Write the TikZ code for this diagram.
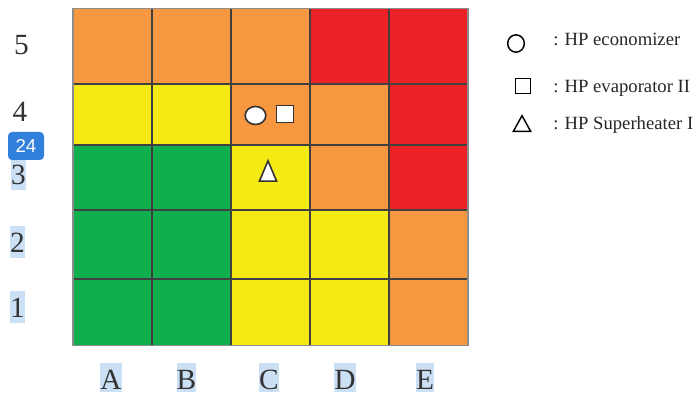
\documentclass[tikz,border=0pt]{standalone}
\usepackage{fontspec}
\setmainfont{Liberation Serif}
\newfontfamily\badgefont{Liberation Sans}
\usetikzlibrary{shapes.geometric}
\definecolor{riskgreen}{HTML}{0FAF4D}
\definecolor{riskyellow}{HTML}{F5EA14}
\definecolor{riskorange}{HTML}{F7973F}
\definecolor{riskred}{HTML}{EC2227}
\definecolor{selblue}{HTML}{CCE0F5}
\definecolor{badgeblue}{HTML}{3080DC}

\begin{document}
\begin{tikzpicture}[x=0.75pt, y=-0.75pt,
        cell/.style={draw=black!75, line width=0.8pt},
        axislbl/.style={font=\fontsize{22}{22}\selectfont, inner xsep=0pt, inner ysep=0pt,
                        text height=20pt, text depth=4pt, anchor=base, text=black!80},
        marked/.style={fill=selblue},
        badge/.style={fill=badgeblue, text=white, rounded corners=3pt, inner sep=0pt,
                      minimum width=27pt, minimum height=21pt, font=\badgefont\fontsize{14}{14}\selectfont},
        sym/.style={draw=black!80, fill=white, line width=1.2pt, inner sep=0pt},
        legsym/.style={draw=black, line width=1.1pt, inner sep=0pt},
        legtxt/.style={font=\fontsize{14}{14}\selectfont, anchor=base west, inner sep=0pt, text=black!85}
      ]
        \useasboundingbox (0,0) rectangle (697,395);
        % risk matrix, one row at a time
        \foreach \clr [count=\i from 0] in {riskorange,riskorange,riskorange,riskred,riskred}
          \filldraw[cell, fill=\clr] (73+79*\i,8.5) rectangle ++(79,75.5);
        \foreach \clr [count=\i from 0] in {riskyellow,riskyellow,riskorange,riskorange,riskred}
          \filldraw[cell, fill=\clr] (73+79*\i,84) rectangle ++(79,61);
        \foreach \clr [count=\i from 0] in {riskgreen,riskgreen,riskyellow,riskorange,riskred}
          \filldraw[cell, fill=\clr] (73+79*\i,145) rectangle ++(79,65);
        \foreach \clr [count=\i from 0] in {riskgreen,riskgreen,riskyellow,riskyellow,riskorange}
          \filldraw[cell, fill=\clr] (73+79*\i,210) rectangle ++(79,69);
        \foreach \clr [count=\i from 0] in {riskgreen,riskgreen,riskyellow,riskyellow,riskorange}
          \filldraw[cell, fill=\clr] (73+79*\i,279) rectangle ++(79,66.5);
        \draw[black!45, line width=0.8pt] (73,8.5) rectangle (468,345.5);

        % row labels
        \node[axislbl] (row5) at (21.5,55) {5};
        \node[axislbl] (row4) at (20,122) {4};
        \node[axislbl, marked] (row3) at (18.5,185) {3};
        \node[axislbl, marked] (row2) at (17.5,253) {2};
        \node[axislbl, marked] (row1) at (17.5,318) {1};
        \node[badge] (page) at (26,146) {24};

        % column labels
        \node[axislbl, marked, text depth=1.5pt] (colA) at (111,390) {A};
        \node[axislbl, marked, text depth=1.5pt] (colB) at (186.5,390) {B};
        \node[axislbl, marked, text depth=1.5pt] (colC) at (269,390) {C};
        \node[axislbl, marked, text depth=1.5pt] (colD) at (345,390) {D};
        \node[axislbl, marked, text depth=1.5pt] (colE) at (425,390) {E};

        % components placed in the matrix
        \node[sym, ellipse, minimum width=15.5pt, minimum height=13.5pt] (econ) at (255.5,115.5) {};
        \node[sym, rectangle, minimum size=12.5pt] (evap) at (285,114) {};
        \coordinate (super) at (268,171);
        \draw[sym] (super) ++(0,-10.2) -- ++(8.6,20.4) -- ++(-17.2,0) -- cycle;

        % legend
        \node[legsym, ellipse, minimum width=12.5pt, minimum height=13pt] (legEconSym) at (516,43.5) {};
        \node[legsym, rectangle, minimum size=11pt] (legEvapSym) at (523,86) {};
        \coordinate (legSuperSym) at (522,123.5);
        \draw[legsym] (legSuperSym) ++(0,-7.8) -- ++(8.6,15.6) -- ++(-17.2,0) -- cycle;
        \node[legtxt] (legEcon) at (553,46) {: HP economizer};
        \node[legtxt] (legEvap) at (553,92.5) {: HP evaporator II};
        \node[legtxt] (legSuper) at (553,130) {: HP Superheater I};
      \end{tikzpicture}
\end{document}
